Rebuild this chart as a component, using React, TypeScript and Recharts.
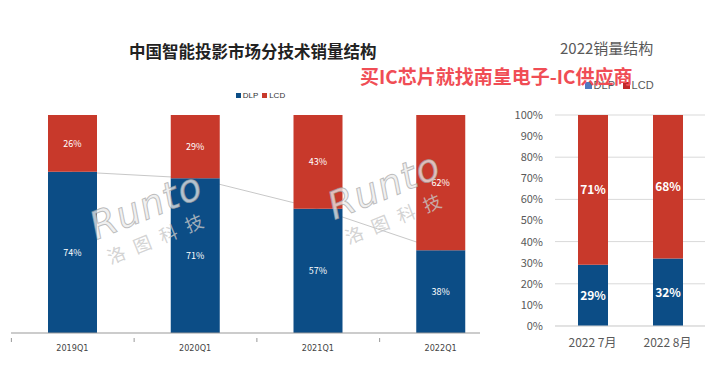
import React from "react";
import { BarChart, ComposedChart, Bar, Line, XAxis, YAxis, CartesianGrid, LabelList } from "recharts";

// left chart: quarterly share by technology
const quarters = ["2019Q1", "2020Q1", "2021Q1", "2022Q1"];
const dlpQ = [74, 71, 57, 38];
const lcdQ = [26, 29, 43, 62];

// right chart: 2022 monthly share
const months = ["2022 7月", "2022 8月"];
const dlpM = [29, 32];
const lcdM = [71, 68];
const pctTicks = [0, 10, 20, 30, 40, 50, 60, 70, 80, 90, 100];

const BLUE = "#0c4d86";
const RED = "#c8392b";
const FONT = "'Noto Sans CJK SC', 'Noto Sans', sans-serif";

const leftData = quarters.map((q, i) => ({ name: q, DLP: dlpQ[i], LCD: lcdQ[i] }));
const rightData = months.map((m, i) => ({ name: m, DLP: dlpM[i], LCD: lcdM[i] }));

// tick mark sits on the category boundary, like the excel original
function QuarterTick({ x, y, payload }: any) {
  return (
    <g>
      <line x1={x - 61} x2={x - 61} y1={y - 3} y2={y + 1} stroke="#999" />
      <text x={x} y={y + 10} textAnchor="middle" fontSize={9} fill="#444" fontFamily="'Liberation Sans Narrow', 'DejaVu Sans Condensed', sans-serif">
        {payload.value}
      </text>
    </g>
  );
}

function Watermark({ left, top }: { left: number; top: number }) {
  return (
    <div style={{ position: "absolute", left, top, transform: "rotate(-22deg)", color: "rgba(235,235,235,0.75)", fontFamily: "'DejaVu Sans', sans-serif", pointerEvents: "none" }}>
      <div style={{ fontSize: 38, fontStyle: "italic", WebkitTextStroke: "1px rgba(150,150,150,0.6)", lineHeight: "40px", letterSpacing: 1 }}>Runto</div>
      <div style={{ fontSize: 18, fontFamily: FONT, letterSpacing: 10, marginLeft: 4, color: "rgba(200,200,200,0.8)" }}>洛图科技</div>
    </div>
  );
}

function LegendBox({ left, top, fontSize, color, blue, red, gap }: any) {
  const sq = { display: "inline-block", width: fontSize * 0.6, height: fontSize * 0.6, marginRight: 2 };
  return (
    <div style={{ position: "absolute", left, top, fontSize, color, fontFamily: "'Liberation Sans', sans-serif", whiteSpace: "nowrap", lineHeight: 1 }}>
      <span style={{ ...sq, background: blue }} />DLP
      <span style={{ ...sq, background: red, marginLeft: gap }} />LCD
    </div>
  );
}

export default function App() {
  return (
    <div style={{ position: "absolute", left: 0, top: 0, width: 720, height: 366, background: "#fff", overflow: "hidden", fontFamily: FONT }}>
      <div style={{ position: "absolute", left: 0, top: 0, width: 480, height: 366, overflow: "hidden" }}>
        <ComposedChart width={502} height={366} data={leftData} margin={{ top: 115, right: 0, left: 11, bottom: 13 }}>
          <XAxis dataKey="name" height={20} axisLine={{ stroke: "#999" }} tickLine={false} tick={<QuarterTick />} interval={0} />
          <YAxis hide domain={[0, 100]} />
          <Line dataKey="DLP" stroke="#c8c8c8" strokeWidth={1} dot={false} isAnimationActive={false} zIndex={250} />
          <Bar dataKey="DLP" stackId="a" fill={BLUE} barSize={49} isAnimationActive={false}>
            <LabelList dataKey="DLP" position="center" fill="#fff" fontSize={9} formatter={(v: any) => `${v}%`} />
          </Bar>
          <Bar dataKey="LCD" stackId="a" fill={RED} barSize={49} isAnimationActive={false}>
            <LabelList dataKey="LCD" position="center" fill="#fff" fontSize={9} formatter={(v: any) => `${v}%`} />
          </Bar>
        </ComposedChart>
      </div>

      <div style={{ position: "absolute", left: 500, top: 0 }}>
        <BarChart width={220} height={366} data={rightData} margin={{ top: 115, right: 15, left: 10, bottom: 15 }}>
          <CartesianGrid vertical={false} stroke="#d9d9d9" />
          <XAxis dataKey="name" height={25} axisLine={{ stroke: "#d9d9d9" }} tickLine={false} tickMargin={6} tick={{ fontSize: 12, fill: "#595959" }} />
          <YAxis width={45} domain={[0, 100]} ticks={pctTicks} axisLine={false} tickLine={false} tickMargin={6} tickFormatter={(v) => `${v}%`} tick={{ fontSize: 11, fill: "#595959" }} />
          <Bar dataKey="DLP" stackId="b" fill={BLUE} barSize={30} isAnimationActive={false}>
            <LabelList dataKey="DLP" position="center" fill="#fff" fontSize={12} fontWeight="bold" formatter={(v: any) => `${v}%`} />
          </Bar>
          <Bar dataKey="LCD" stackId="b" fill={RED} barSize={30} isAnimationActive={false}>
            <LabelList dataKey="LCD" position="center" fill="#fff" fontSize={12} fontWeight="bold" formatter={(v: any) => `${v}%`} />
          </Bar>
        </BarChart>
      </div>

      <Watermark left={92} top={185} />
      <Watermark left={330} top={165} />

      <div style={{ position: "absolute", left: 129, top: 39, fontSize: 16.5, fontWeight: 700, color: "#222" }}>中国智能投影市场分技术销量结构</div>
      <LegendBox left={236} top={92} fontSize={8} color="#333" blue={BLUE} red={RED} gap={4} />

      <div style={{ position: "absolute", left: 560, top: 37, fontSize: 15, color: "#595959" }}>2022销量结构</div>
      <LegendBox left={585} top={80} fontSize={11} color="#595959" blue="#4f7ac0" red="#c0282a" gap={8} />

      <div style={{ position: "absolute", left: 360, top: 62, fontSize: 19, fontWeight: 700, color: "#f04d55", whiteSpace: "nowrap" }}>买IC芯片就找南皇电子-IC供应商</div>
    </div>
  );
}
